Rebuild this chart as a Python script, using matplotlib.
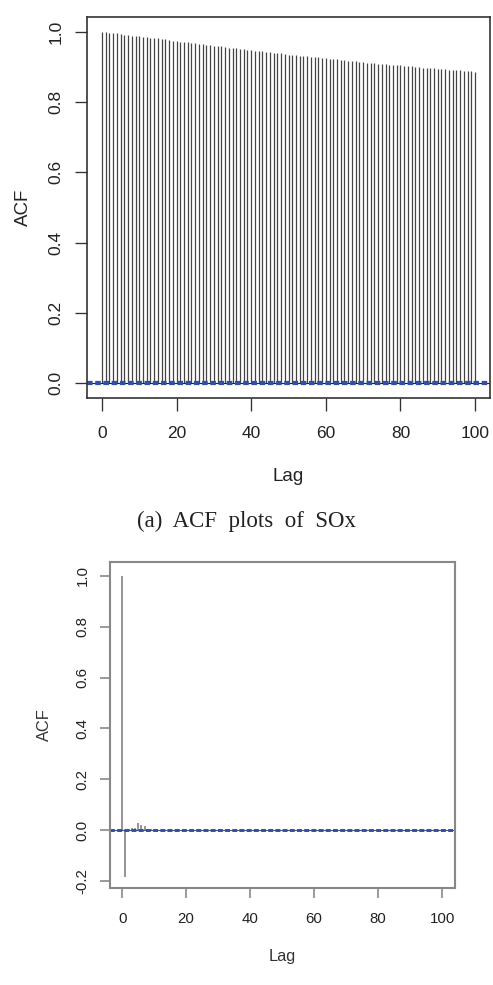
import matplotlib
matplotlib.use("Agg")
import matplotlib.pyplot as plt
import numpy as np

# ---- data ----
lags_top = list(range(0, 101))
acf_top = [
    1.000, 0.999, 0.998, 0.997, 0.996, 0.994, 0.993, 0.991, 0.990, 0.989, 0.988,
    0.987, 0.985, 0.984, 0.983, 0.982, 0.980, 0.979, 0.977, 0.976, 0.975,
    0.973, 0.972, 0.971, 0.969, 0.968, 0.967, 0.965, 0.964, 0.963, 0.961,
    0.960, 0.959, 0.957, 0.956, 0.955, 0.954, 0.952, 0.951, 0.950, 0.948,
    0.947, 0.946, 0.945, 0.944, 0.942, 0.941, 0.940, 0.939, 0.938, 0.936,
    0.935, 0.934, 0.933, 0.932, 0.931, 0.930, 0.929, 0.928, 0.927, 0.925,
    0.924, 0.923, 0.922, 0.921, 0.920, 0.919, 0.918, 0.917, 0.916, 0.914,
    0.913, 0.912, 0.911, 0.910, 0.909, 0.908, 0.907, 0.906, 0.906, 0.905,
    0.904, 0.903, 0.902, 0.901, 0.900, 0.899, 0.898, 0.898, 0.897, 0.896,
    0.895, 0.894, 0.893, 0.892, 0.892, 0.891, 0.890, 0.889, 0.888, 0.887,
]
ci_top = 0.002

lags_bot = list(range(0, 101))
acf_bot = [
    1.000, -0.184, 0.004, 0.008, 0.010, 0.027, 0.020, 0.015, 0.006, 0.004, 0.002,
    0.001, -0.001, 0.002, 0.001, -0.002, 0.001, 0.000, -0.001, 0.002, -0.001,
    0.001, -0.002, 0.000, 0.001, -0.001, 0.002, -0.001, 0.000, 0.001, -0.002,
    0.001, 0.000, -0.001, 0.001, -0.001, 0.002, 0.000, -0.001, 0.001, -0.002,
    0.001, -0.001, 0.000, 0.002, -0.001, 0.001, -0.001, 0.000, 0.001, -0.001,
    0.002, -0.001, 0.000, 0.001, -0.002, 0.001, 0.000, -0.001, 0.001, -0.001,
    0.001, -0.001, 0.000, 0.001, -0.002, 0.001, 0.000, -0.001, 0.002, -0.001,
    0.001, 0.000, -0.001, 0.001, -0.001, 0.001, 0.000, -0.002, 0.001, -0.001,
    0.001, 0.000, -0.001, 0.001, -0.001, 0.002, 0.000, -0.001, 0.001, -0.001,
    0.001, -0.001, 0.000, 0.001, -0.001, 0.001, 0.000, -0.001, 0.001, -0.001,
]
ci_bot = 0.002

xticks = [0, 20, 40, 60, 80, 100]
yticks_top = [0.0, 0.2, 0.4, 0.6, 0.8, 1.0]
yticks_bot = [-0.2, 0.0, 0.2, 0.4, 0.6, 0.8, 1.0]
caption = "(a)  ACF  plots  of  SOx"

plt.rcParams['font.family'] = ['Liberation Sans', 'DejaVu Sans']

fig = plt.figure(figsize=(4.93, 9.85), dpi=100)

def style(ax, spine_col, lw, fs, tl, padx, pady):
    for s in ax.spines.values():
        s.set_color(spine_col)
        s.set_linewidth(lw)
    ax.tick_params(axis='both', direction='out', length=tl, width=lw * 0.8,
                   color=spine_col, labelsize=fs, labelcolor='#222222')
    ax.tick_params(axis='x', pad=padx)
    ax.tick_params(axis='y', pad=pady, labelrotation=90)
    for lab in ax.get_yticklabels():
        lab.set_verticalalignment('center')

# ---- top panel ----
ax1 = fig.add_axes([87 / 493, 1 - 398 / 985, (490 - 87) / 493, (398 - 17) / 985])
ax1.vlines(lags_top, 0, acf_top, colors='#444444', linewidth=0.9)
ax1.axhline(0, color='#222222', linewidth=0.8)
for c in (ci_top, -ci_top):
    ax1.axhline(c, color='#3050a8', linewidth=1.6, linestyle=(0, (2.5, 1.2)))
ax1.set_xlim(-4, 104)
ax1.set_ylim(-0.043, 1.043)
ax1.set_xticks(xticks)
ax1.set_yticks(yticks_top)
ax1.set_yticklabels([f"{v:.1f}" for v in yticks_top])
style(ax1, '#333333', 1.2, 12.5, 9, 11.5, 8)
ax1.set_xlabel("Lag", fontsize=13.5, color='#222222', labelpad=19)
ax1.set_ylabel("ACF", fontsize=13.5, color='#222222', labelpad=12)

# ---- caption ----
fig.text(0.5, 1 - 521 / 985, caption, ha='center', va='center',
         fontsize=16.5, family=['Liberation Serif', 'DejaVu Serif'], color='#222222')

# ---- bottom panel ----
ax2 = fig.add_axes([110 / 493, 1 - 888 / 985, (455 - 110) / 493, (888 - 562) / 985])
ax2.vlines(lags_bot, 0, acf_bot, colors='#777777', linewidth=1.1)
ax2.axhline(0, color='#555555', linewidth=0.8)
for c in (ci_bot, -ci_bot):
    ax2.axhline(c, color='#3050a8', linewidth=1.4, linestyle=(0, (2.5, 1.2)))
ax2.set_xlim(-3.8, 104)
ax2.set_ylim(-0.228, 1.055)
ax2.set_xticks(xticks)
ax2.set_yticks(yticks_bot)
ax2.set_yticklabels([f"{v:.1f}" for v in yticks_bot])
style(ax2, '#888888', 1.5, 10.8, 7.5, 10, 7)
ax2.set_xlabel("Lag", fontsize=11.8, color='#333333', labelpad=16)
ax2.set_ylabel("ACF", fontsize=11.8, color='#333333', labelpad=17.5)

fig.savefig("out.png", dpi=100)
